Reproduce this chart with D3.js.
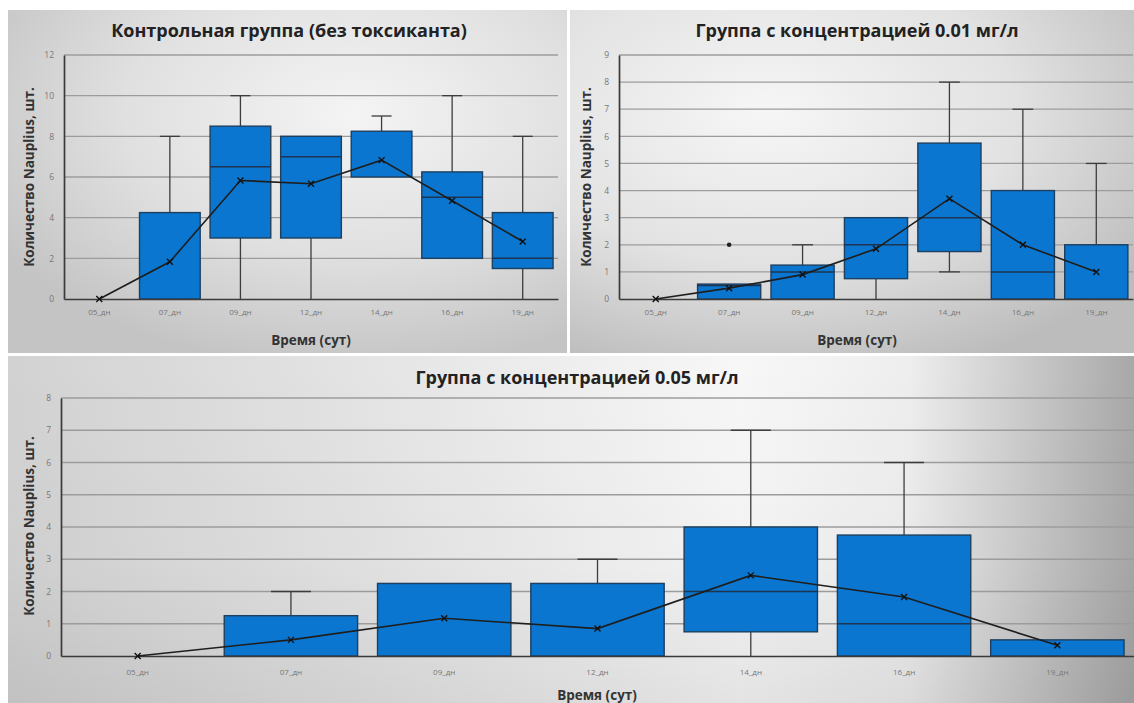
<!DOCTYPE html>
<html><head><meta charset="utf-8">
<script src="https://cdn.jsdelivr.net/npm/d3@7"></script>
<style>body{margin:0;background:#fff}svg{display:block}</style>
</head><body>
<svg id="c" width="1134" height="703"></svg>
<script>
const categories = ["05_дн","07_дн","09_дн","12_дн","14_дн","16_дн","19_дн"];

// Control group (no toxicant)
const ctrlMin    = [0, 0, 0,    0,    6,    2,    0];
const ctrlQ1     = [0, 0, 3,    3,    6,    2,    1.5];
const ctrlMedian = [0, 0, 6.5,  7,    6,    5,    2];
const ctrlQ3     = [0, 4.25, 8.5, 8,  8.25, 6.25, 4.25];
const ctrlMax    = [0, 8, 10,   8,    9,    10,   8];
const ctrlMean   = [0, 1.83, 5.83, 5.67, 6.83, 4.83, 2.83];
const ctrlOutliers = [[],[],[],[],[],[],[]];

// 0.01 mg/l group
const g01Min    = [0, 0,    0,    0,    1,    0, 0];
const g01Q1     = [0, 0,    0,    0.75, 1.75, 0, 0];
const g01Median = [0, 0.5,  1,    2,    3,    1, 0];
const g01Q3     = [0, 0.55, 1.25, 3,    5.75, 4, 2];
const g01Max    = [0, 0.55, 2,    3,    8,    7, 5];
const g01Mean   = [0, 0.4,  0.9,  1.85, 3.7,  2, 1];
const g01Outliers = [[],[2],[],[],[],[],[]];

// 0.05 mg/l group
const g05Min    = [0, 0,    0,    0,    0,    0,    0];
const g05Q1     = [0, 0,    0,    0,    0.75, 0,    0];
const g05Median = [0, 0,    0,    0,    2,    1,    0];
const g05Q3     = [0, 1.25, 2.25, 2.25, 4,    3.75, 0.5];
const g05Max    = [0, 2,    2.25, 3,    7,    6,    0.5];
const g05Mean   = [0, 0.5,  1.17, 0.85, 2.5,  1.83, 0.33];
const g05Outliers = [[],[],[],[],[],[],[]];

const titles = ["Контрольная группа (без токсиканта)", "Группа с концентрацией 0.01 мг/л", "Группа с концентрацией 0.05 мг/л"];
const yTitle = "Количество Nauplius, шт.";
const xTitle = "Время (сут)";

const svg = d3.select("#c");
const defs = svg.append("defs");
function radial(id, cx, cy, r, stops){
  const g = defs.append("radialGradient").attr("id", id).attr("cx", cx).attr("cy", cy).attr("r", r);
  stops.forEach(s => g.append("stop").attr("offset", s[0]).attr("stop-color", s[1]));
}
function linear(id, stops){
  const g = defs.append("linearGradient").attr("id", id).attr("x1","0%").attr("x2","100%").attr("y1","0%").attr("y2","0%");
  stops.forEach(s => g.append("stop").attr("offset", s[0]).attr("stop-color", s[1]));
}
radial("bgTL", "62%", "30%", "75%", [["0%","#f4f4f4"],["55%","#e0e0e0"],["100%","#c4c4c4"]]);
radial("bgTR", "35%", "30%", "80%", [["0%","#f6f6f6"],["55%","#e2e2e2"],["100%","#bcbcbc"]]);
linear("bgB", [["0%","#d2d2d2"],["35%","#e6e6e6"],["65%","#f7f7f7"],["80%","#eeeeee"],["100%","#a8a8a8"]]);
const vshade = defs.append("linearGradient").attr("id","vs").attr("x1","0%").attr("x2","0%").attr("y1","0%").attr("y2","100%");
vshade.append("stop").attr("offset","0%").attr("stop-color","#000").attr("stop-opacity",0);
vshade.append("stop").attr("offset","60%").attr("stop-color","#000").attr("stop-opacity",0.02);
vshade.append("stop").attr("offset","100%").attr("stop-color","#000").attr("stop-opacity",0.08);

svg.append("rect").attr("x",8).attr("y",10).attr("width",559).attr("height",343).attr("fill","url(#bgTL)");
svg.append("rect").attr("x",570).attr("y",10).attr("width",564).attr("height",343).attr("fill","url(#bgTR)");
svg.append("rect").attr("x",8).attr("y",356).attr("width",1126).attr("height",347).attr("fill","url(#bgB)");
svg.append("rect").attr("x",8).attr("y",356).attr("width",1126).attr("height",347).attr("fill","url(#vs)");

const FONT = "'Open Sans', 'Noto Sans', sans-serif";

function drawPanel(p){
  const x = d3.scaleBand().domain(categories).range([p.x0, p.x1]).padding(0);
  const y = d3.scaleLinear().domain([0, p.ymax]).range([p.yZero, p.yTop]);
  const g = svg.append("g");
  const ticks = d3.range(0, p.ymax + 0.001, p.step);

  // gridlines
  g.append("g").selectAll("line").data(ticks.filter(t => t > 0)).join("line")
    .attr("x1", p.x0).attr("x2", p.x1).attr("y1", d => y(d)).attr("y2", d => y(d))
    .attr("stroke", "#9c9c9c").attr("stroke-width", 1.3);

  // y axis
  const ya = g.append("g").attr("transform", `translate(${p.x0},0)`)
    .call(d3.axisLeft(y).tickValues(ticks).tickSize(0).tickPadding(10).tickFormat(d3.format("d")));
  ya.select(".domain").attr("stroke", "#3a3a3a").attr("stroke-width", 1.7);
  ya.selectAll("text").attr("font-family", FONT).attr("font-size", 8.5).attr("fill", "#777");

  const bw = x.bandwidth() * p.boxFrac;
  const cap = bw * p.capFrac;
  const data = categories.map((c, i) => ({c, min:p.min[i], q1:p.q1[i], med:p.med[i], q3:p.q3[i], max:p.max[i], mean:p.mean[i], out:p.out[i]}));
  const cx = d => x(d.c) + x.bandwidth()/2;

  // whiskers
  const wk = g.append("g").attr("stroke", "#3c3c3c").attr("stroke-width", 1.3);
  data.forEach(d => {
    if (d.max > d.q3) {
      wk.append("line").attr("x1", cx(d)).attr("x2", cx(d)).attr("y1", y(d.q3)).attr("y2", y(d.max));
      wk.append("line").attr("x1", cx(d)-cap/2).attr("x2", cx(d)+cap/2).attr("y1", y(d.max)).attr("y2", y(d.max));
    }
    if (d.min < d.q1) {
      wk.append("line").attr("x1", cx(d)).attr("x2", cx(d)).attr("y1", y(d.q1)).attr("y2", y(d.min));
      if (d.min > 0) wk.append("line").attr("x1", cx(d)-cap/2).attr("x2", cx(d)+cap/2).attr("y1", y(d.min)).attr("y2", y(d.min));
    }
  });

  // boxes
  g.append("g").selectAll("rect").data(data.filter(d => d.q3 > d.q1)).join("rect")
    .attr("x", d => cx(d) - bw/2).attr("width", bw)
    .attr("y", d => y(d.q3)).attr("height", d => y(d.q1) - y(d.q3))
    .attr("fill", "#0a76cf").attr("stroke", "#1d3f60").attr("stroke-width", 1.4);
  // medians
  g.append("g").selectAll("line").data(data.filter(d => d.q3 > d.q1 && d.med > d.q1 && d.med < d.q3)).join("line")
    .attr("x1", d => cx(d) - bw/2).attr("x2", d => cx(d) + bw/2)
    .attr("y1", d => y(d.med)).attr("y2", d => y(d.med))
    .attr("stroke", "#1d3550").attr("stroke-width", 1.5);

  // x axis
  const xa = g.append("g").attr("transform", `translate(0,${p.yZero})`)
    .call(d3.axisBottom(x).tickSize(0).tickPadding(p.xPad));
  xa.select(".domain").attr("stroke", "#3a3a3a").attr("stroke-width", 1.7);
  xa.selectAll("text").attr("font-family", FONT).attr("font-size", 8).attr("fill", "#777");

  // mean line
  g.append("path").datum(data)
    .attr("d", d3.line().x(cx).y(d => y(d.mean)))
    .attr("fill", "none").attr("stroke", "#1e1e1e").attr("stroke-width", 1.6);
  const m = 3;
  g.append("g").selectAll("path").data(data).join("path")
    .attr("d", d => `M${cx(d)-m},${y(d.mean)-m}L${cx(d)+m},${y(d.mean)+m}M${cx(d)-m},${y(d.mean)+m}L${cx(d)+m},${y(d.mean)-m}`)
    .attr("stroke", "#111").attr("stroke-width", 1.4);

  // outliers
  data.forEach(d => d.out.forEach(o => {
    g.append("circle").attr("cx", cx(d)).attr("cy", y(o)).attr("r", 2.3).attr("fill", "#222");
  }));

  // titles
  g.append("text").attr("x", p.titleX).attr("y", p.titleY).attr("text-anchor", "middle")
    .attr("font-family", FONT).attr("font-weight", 700).attr("font-size", 18).attr("fill", "#222").text(p.title);
  g.append("text").attr("x", p.xtX).attr("y", p.xtY).attr("text-anchor", "middle")
    .attr("font-family", FONT).attr("font-weight", 700).attr("font-size", 13.5).attr("fill", "#333").text(xTitle);
  g.append("text").attr("transform", `translate(${p.ytX},${p.ytY}) rotate(-90)`).attr("text-anchor", "middle")
    .attr("font-family", FONT).attr("font-weight", 700).attr("font-size", 13.5).attr("fill", "#333").text(yTitle);
}

drawPanel({x0:64, x1:558, yTop:55, yZero:299, ymax:12, step:2, boxFrac:0.86, capFrac:0.33, xPad:10,
  min:ctrlMin, q1:ctrlQ1, med:ctrlMedian, q3:ctrlQ3, max:ctrlMax, mean:ctrlMean, out:ctrlOutliers,
  title:titles[0], titleX:289, titleY:37, xtX:311, xtY:345, ytX:34, ytY:177});

drawPanel({x0:619, x1:1133, yTop:55, yZero:299, ymax:9, step:1, boxFrac:0.86, capFrac:0.33, xPad:10,
  min:g01Min, q1:g01Q1, med:g01Median, q3:g01Q3, max:g01Max, mean:g01Mean, out:g01Outliers,
  title:titles[1], titleX:857, titleY:37, xtX:857, xtY:345, ytX:591, ytY:177});

drawPanel({x0:61, x1:1134, yTop:398, yZero:656, ymax:8, step:1, boxFrac:0.87, capFrac:0.3, xPad:13,
  min:g05Min, q1:g05Q1, med:g05Median, q3:g05Q3, max:g05Max, mean:g05Mean, out:g05Outliers,
  title:titles[2], titleX:577, titleY:384, xtX:597, xtY:700, ytX:34, ytY:526});
</script>
</body></html>
